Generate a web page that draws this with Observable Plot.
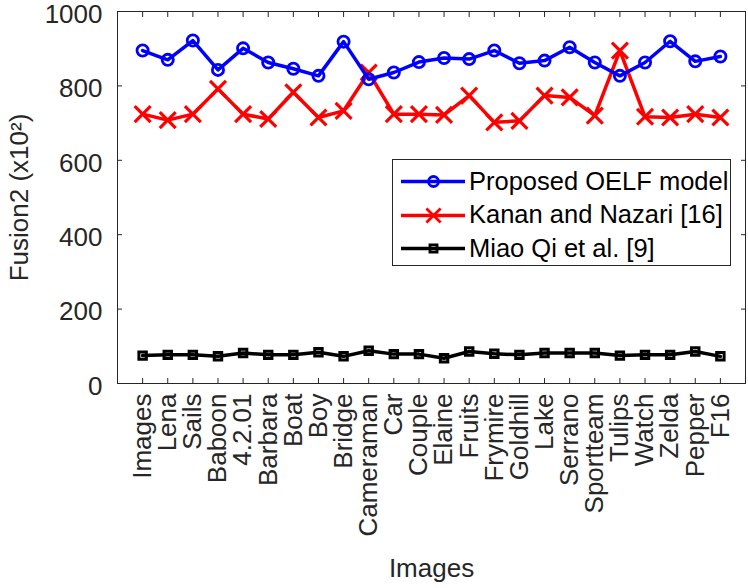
<!DOCTYPE html>
<html>
<head>
<meta charset="utf-8">
<script src="https://cdn.jsdelivr.net/npm/d3@7"></script>
<script src="https://cdn.jsdelivr.net/npm/@observablehq/plot@0.6"></script>
<style>
  html, body { margin: 0; padding: 0; background: #fff; }
  #wrap { position: relative; width: 748px; height: 588px; font-family: "Liberation Sans", Arial, sans-serif; }
  #legend { position: absolute; left: 392px; top: 159px; width: 339px; height: 107px; border: 1px solid #262626; background: #fff; box-sizing: border-box; }
  .row { position: absolute; left: 0; height: 34px; display: flex; align-items: center; font-size: 25.5px; color: #000; white-space: nowrap; }
  .row svg { margin-left: 8px; margin-right: 4px; }
</style>
</head>
<body>
<div id="wrap"></div>
<script>
const categories = ["Images","Lena","Sails","Baboon","4.2.01","Barbara","Boat","Boy","Bridge","Cameraman","Car","Couple","Elaine","Fruits","Frymire","Goldhill","Lake","Serrano","Sportteam","Tulips","Watch","Zelda","Pepper","F16"];
const proposed = [895,870,922,843,901,863,846,827,919,818,836,864,875,872,895,861,868,904,863,827,863,920,866,879];
const kanan    = [724,708,724,792,724,711,783,715,733,836,724,724,722,774,702,706,774,769,720,895,717,715,724,715];
const miao     = [75,77,77,73,82,77,77,84,73,88,79,79,68,86,80,77,82,82,82,75,77,77,86,73];
const yTicks = [0,200,400,600,800,1000];
const seriesNames = ["Proposed OELF model","Kanan and Nazari [16]","Miao Qi et al. [9]"];

const toRows = (vals) => vals.map((v, i) => ({x: i + 1, y: v, name: categories[i]}));
const dP = toRows(proposed), dK = toRows(kanan), dM = toRows(miao);
const xTicks = categories.map((_, i) => i + 1);
const axisColor = "#262626";

const chart = Plot.plot({
  width: 748,
  height: 588,
  marginLeft: 117,
  marginRight: 3,
  marginTop: 11,
  marginBottom: 205,
  style: {fontFamily: "'Liberation Sans', Arial, sans-serif", fontSize: "26px", color: axisColor, background: "#fff"},
  x: {domain: [0, 25]},
  y: {domain: [0, 1000]},
  marks: [
    Plot.frame({stroke: axisColor, strokeWidth: 1}),
    // inward ticks
    Plot.axisX(xTicks, {anchor: "bottom", tickSize: -5, text: null, label: null, stroke: axisColor}),
    Plot.axisX(xTicks, {anchor: "top", tickSize: -5, text: null, label: null, stroke: axisColor}),
    Plot.axisY(yTicks, {anchor: "left", tickSize: -5, text: null, label: null, stroke: axisColor}),
    Plot.axisY(yTicks, {anchor: "right", tickSize: -5, text: null, label: null, stroke: axisColor}),
    // labels
    Plot.axisX(xTicks, {anchor: "bottom", tickSize: 0, tickPadding: 10, tickRotate: -90,
      tickFormat: (d) => categories[d - 1], fill: axisColor, fontSize: 26,
      label: "Images", labelAnchor: "center", labelArrow: "none", labelOffset: 193}),
    Plot.axisY(yTicks, {anchor: "left", tickSize: 0, tickPadding: 15, fill: axisColor, fontSize: 26, dy: 3,
      tickFormat: d3.format("d"),
      label: "Fusion2 (x10²)", labelAnchor: "center", labelArrow: "none", labelOffset: 108}),
    // series
    Plot.line(dM, {x: "x", y: "y", stroke: "#000", strokeWidth: 3.5}),
    Plot.dot(dM, {x: "x", y: "y", symbol: "square", r: 4.2, stroke: "#000", strokeWidth: 3, fill: "none"}),
    Plot.line(dK, {x: "x", y: "y", stroke: "#ff0000", strokeWidth: 3.5}),
    Plot.dot(dK, {x: "x", y: "y", symbol: "times", r: 7.3, stroke: "#ff0000", strokeWidth: 3.2, fill: "none"}),
    Plot.line(dP, {x: "x", y: "y", stroke: "#0000ff", strokeWidth: 3.5}),
    Plot.dot(dP, {x: "x", y: "y", symbol: "circle", r: 5.6, stroke: "#0000ff", strokeWidth: 2.8, fill: "none"})
  ]
});

const wrap = document.getElementById("wrap");
wrap.appendChild(chart);

// legend
const legend = document.createElement("div");
legend.id = "legend";
const colors = ["#0000ff", "#ff0000", "#000000"];
const symbols = ["circle", "times", "square"];
seriesNames.forEach((name, i) => {
  const row = document.createElement("div");
  row.className = "row";
  row.style.top = (4 + i * 33.7) + "px";
  const sw = Plot.plot({
    width: 64, height: 30, margin: 0,
    x: {domain: [0, 1], axis: null}, y: {domain: [0, 1], axis: null},
    marks: [
      Plot.lineX([0, 1], {y: 0.5, stroke: colors[i], strokeWidth: 3.5}),
      Plot.dot([0.5], {x: (d) => d, y: 0.5, symbol: symbols[i],
        r: [5, 6.5, 4][i], stroke: colors[i], strokeWidth: 2.8, fill: "none"})
    ]
  });
  row.appendChild(sw);
  const t = document.createElement("span");
  t.textContent = name;
  row.appendChild(t);
  legend.appendChild(row);
});
wrap.appendChild(legend);
</script>
</body>
</html>
